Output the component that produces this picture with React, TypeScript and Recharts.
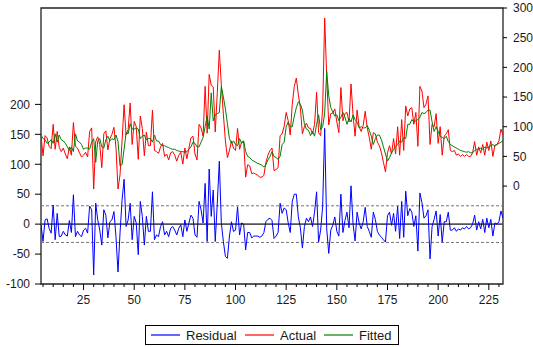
import { LineChart, Line, XAxis, YAxis, ReferenceLine, ReferenceArea } from 'recharts';

// observation numbers 4..232
const firstObs = 4;

const residual = [
  -1, -29, 7, 9, -7, -15, 32, -26, 18, -21,
  -20, -12, -18, -20, 6, -14, 49, -21, -12, -18,
  -21, -10, -7, -15, 30, 24, -85, 35, 7, -10,
  -35, 24, 15, -23, 4, 7, 21, -21, -80, -15,
  40, 75, -4, 7, 35, -26, 13, 2, -51, 38,
  13, -35, 13, -12, -12, 54, -26, -18, -21, -4,
  4, -18, -12, -21, -7, -4, -10, -18, -7, -1,
  -21, 7, -12, 2, 15, 10, -18, -22, 38, 24,
  2, 68, -29, 92, 13, 57, -29, 35, 105, 2,
  -29, -54, -57, -20, 4, -12, -10, 29, -18, 2,
  0, -43, -14, -14, -23, -20, -20, -20, -22, -20,
  -14, 4, 8, 10, 6, -24, -20, -14, 35, 18,
  27, 24, 2, -14, 38, 50, 50, 12, -6, -40,
  -4, 10, 4, 12, -4, 20, 54, -30, -10, 30,
  160, -8, -49, -10, -2, 12, -12, -20, 50, -14,
  6, 20, -6, 64, 0, -28, 20, 2, -8, 4,
  28, -4, -12, -22, 20, 8, -12, -18, -22, -26,
  -30, 14, 20, -2, 18, -12, 30, -24, 38, -22,
  55, 14, 26, 20, -4, 14, -45, 52, 36, 10,
  14, 24, -58, -4, 8, 22, -20, 16, -30, 4,
  4, 20, -10, -10, -6, -12, -8, -10, -6, -8,
  -4, -8, -6, 0, 15, -10, 4, -8, 8, -14,
  10, -6, 8, -20, 2, 0, 4, 22, 10,
];

const actual = [
  85, 51, 85, 81, 67, 63, 104, 62, 92, 65,
  58, 64, 54, 46, 66, 52, 107, 67, 64, 56,
  49, 52, 57, 49, 92, 98, -5, 75, 83, 70,
  31, 88, 93, 61, 80, 87, 99, 65, -5, 19,
  76, 137, 86, 95, 140, 70, 109, 100, 45, 118,
  97, 51, 91, 68, 68, 128, 60, 58, 55, 66,
  72, 50, 54, 44, 56, 58, 52, 42, 52, 57,
  37, 64, 46, 64, 81, 84, 54, 44, 104, 98,
  84, 168, 89, 188, 170, 167, 91, 157, 229, 170,
  121, 76, 48, 60, 76, 64, 60, 97, 62, 74,
  76, 15, 36, 34, 21, 22, 20, 18, 15, 15,
  18, 40, 52, 60, 64, 26, 28, 31, 85, 88,
  101, 124, 110, 86, 138, 168, 182, 154, 132, 88,
  100, 106, 98, 97, 88, 104, 158, 90, 85, 130,
  283, 185, 103, 122, 123, 130, 108, 90, 166, 110,
  122, 124, 108, 172, 120, 84, 128, 100, 92, 102,
  126, 98, 82, 62, 90, 88, 74, 68, 56, 40,
  24, 56, 68, 54, 80, 54, 100, 52, 112, 60,
  135, 118, 130, 132, 104, 124, 67, 168, 160, 132,
  138, 152, 70, 104, 100, 122, 72, 100, 52, 84,
  88, 95, 60, 58, 60, 52, 54, 50, 53, 50,
  53, 50, 50, 56, 75, 52, 66, 56, 70, 52,
  74, 60, 76, 50, 69, 70, 76, 96, 86,
];

const fitted = [
  86, 80, 78, 72, 74, 78, 72, 88, 74, 86,
  78, 76, 72, 66, 60, 66, 58, 88, 76, 74,
  70, 62, 64, 64, 62, 74, 80, 40, 76, 80,
  66, 64, 78, 84, 76, 80, 78, 86, 75, 34,
  36, 62, 90, 88, 105, 96, 96, 98, 96, 80,
  84, 86, 78, 80, 80, 74, 86, 76, 76, 70,
  68, 68, 66, 65, 63, 62, 62, 60, 59, 58,
  58, 57, 58, 62, 66, 74, 72, 66, 66, 74,
  82, 100, 118, 96, 157, 110, 120, 122, 124, 168,
  150, 130, 105, 80, 72, 76, 70, 68, 80, 72,
  76, 58, 50, 48, 44, 42, 40, 38, 37, 35,
  32, 36, 44, 50, 58, 50, 48, 45, 50, 70,
  74, 100, 108, 100, 100, 118, 132, 142, 138, 128,
  104, 96, 94, 85, 92, 84, 104, 120, 95, 100,
  123, 193, 152, 132, 125, 118, 120, 110, 116, 124,
  116, 104, 114, 108, 120, 112, 108, 98, 100, 98,
  98, 102, 94, 84, 70, 80, 86, 86, 78, 66,
  54, 42, 48, 56, 62, 66, 70, 76, 74, 82,
  80, 104, 104, 112, 108, 110, 112, 116, 124, 122,
  124, 128, 128, 108, 92, 100, 92, 84, 82, 80,
  84, 75, 70, 68, 66, 64, 62, 60, 59, 58,
  57, 58, 56, 56, 60, 62, 62, 64, 62, 66,
  64, 66, 68, 70, 67, 70, 72, 74, 76,
];

const leftTicks = [-100, -50, 0, 50, 100, 150, 200];
const rightTicks = [0, 50, 100, 150, 200, 250, 300];
const xLabels = [25, 50, 75, 100, 125, 150, 175, 200, 225];
const xMinorTicks = [
  5, 10, 15, 20, 25, 30, 35, 40, 45, 50, 55, 60, 65, 70, 75, 80, 85, 90, 95, 100,
  105, 110, 115, 120, 125, 130, 135, 140, 145, 150, 155, 160, 165, 170, 175, 180,
  185, 190, 195, 200, 205, 210, 215, 220, 225, 230,
];
const seBand = 30.6;

const data = actual.map((a, i) => ({
  obs: firstObs + i,
  residual: residual[i],
  actual: a,
  fitted: fitted[i],
}));

const font = '"Liberation Sans", Arial, sans-serif';

const XTick = (props: any) => {
  const { x, y, payload } = props;
  const major = xLabels.includes(payload.value);
  return (
    <g>
      <line x1={x} x2={x} y1={y} y2={y + (major ? 6 : 3)} stroke="#000" strokeWidth={1} />
      {major && (
        <text x={x} y={y + 20} textAnchor="middle" fontSize={12} fontFamily={font} fill="#1a1a1a">
          {payload.value}
        </text>
      )}
    </g>
  );
};

const legendItems = [
  { name: 'Residual', color: '#0000ff', x: 6 },
  { name: 'Actual', color: '#ff0000', x: 100 },
  { name: 'Fitted', color: '#008000', x: 179 },
];

const App = () => {
  return (
    <div style={{ position: 'absolute', left: 0, top: 0, width: 533, height: 347, background: '#fff' }}>
      <LineChart width={533} height={347} data={data} margin={{ top: 8, right: 0, left: 0, bottom: 33 }}>
        <XAxis
          dataKey="obs"
          type="number"
          domain={[4, 232]}
          ticks={xMinorTicks}
          interval={0}
          axisLine={false}
          tickLine={false}
          tickSize={0}
          tickMargin={0}
          height={30}
          tick={<XTick />}
          allowDataOverflow
        />
        <YAxis
          yAxisId="left"
          orientation="left"
          width={41}
          domain={[-100, 361]}
          ticks={leftTicks}
          interval={0}
          axisLine={false}
          tickLine={{ stroke: '#000' }}
          tickSize={6}
          tickMargin={5}
          tick={{ fontSize: 12, fontFamily: font, fill: '#1a1a1a' }}
          allowDataOverflow
        />
        <YAxis
          yAxisId="right"
          orientation="right"
          width={30}
          domain={[-165, 300]}
          ticks={rightTicks}
          interval={0}
          axisLine={false}
          tickLine={{ stroke: '#000' }}
          tickSize={4}
          tickMargin={6}
          tick={{ fontSize: 12, fontFamily: font, fill: '#1a1a1a', textAnchor: 'start' }}
          allowDataOverflow
        />
        <ReferenceLine yAxisId="left" y={seBand} stroke="#777" strokeDasharray="3 2" />
        <ReferenceLine yAxisId="left" y={-seBand} stroke="#777" strokeDasharray="3 2" />
        <ReferenceLine yAxisId="left" y={0} stroke="#555" strokeWidth={1.6} />
        <Line yAxisId="left" type="linear" dataKey="residual" stroke="#0000ff" strokeWidth={1} dot={false} isAnimationActive={false} />
        <Line yAxisId="right" type="linear" dataKey="actual" stroke="#ff0000" strokeWidth={1} dot={false} isAnimationActive={false} />
        <Line yAxisId="right" type="linear" dataKey="fitted" stroke="#008000" strokeWidth={1} dot={false} isAnimationActive={false} />
        <ReferenceArea yAxisId="left" x1={4} x2={232} y1={-100} y2={361} fill="none" stroke="#222" strokeWidth={1.3} />
      </LineChart>
      <svg width={254} height={20} style={{ position: 'absolute', left: 145, top: 325 }}>
        <rect x={0.5} y={0.5} width={253} height={19} fill="#fff" stroke="#000" strokeWidth={1} />
        {legendItems.map((it) => (
          <g key={it.name}>
            <line x1={it.x} x2={it.x + 29} y1={10} y2={10} stroke={it.color} strokeWidth={1.2} />
            <text x={it.x + 35} y={14.5} fontSize={13} fontFamily={font} fill="#1a1a1a">
              {it.name}
            </text>
          </g>
        ))}
      </svg>
    </div>
  );
};

export default App;
